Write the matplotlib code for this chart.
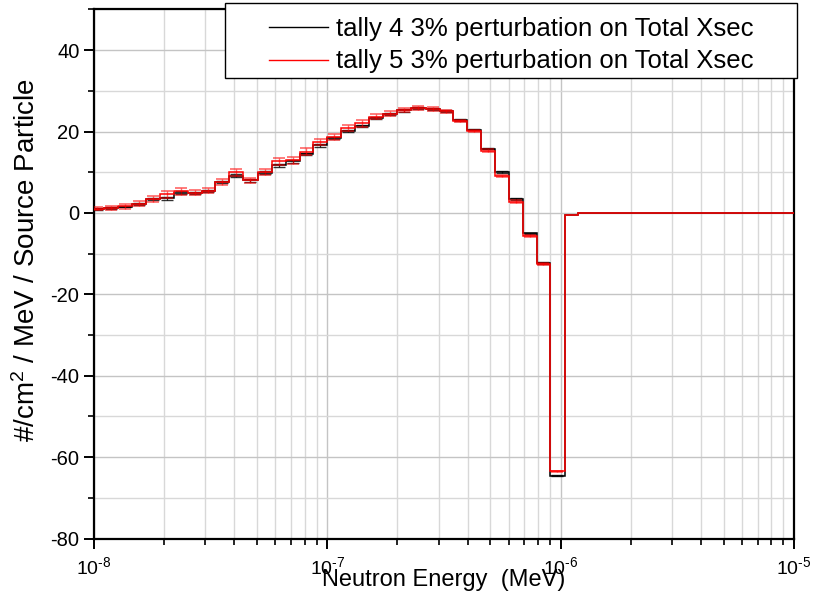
import matplotlib
matplotlib.use("Agg")
import matplotlib.pyplot as plt
import matplotlib.ticker as mticker
from matplotlib.patches import Rectangle
import numpy as np

plt.rcParams["font.family"] = ["Liberation Sans", "DejaVu Sans"]
plt.rcParams["mathtext.fontset"] = "custom"
plt.rcParams["mathtext.rm"] = "Liberation Sans"
plt.rcParams["mathtext.it"] = "Liberation Sans:italic"
plt.rcParams["axes.unicode_minus"] = False

# energy bin edges (MeV)
edges = [9.6e-9, 1.10e-8, 1.27e-8, 1.45e-8, 1.67e-8, 1.92e-8, 2.21e-8, 2.54e-8,
         2.90e-8, 3.30e-8, 3.80e-8, 4.36e-8, 5.03e-8, 5.77e-8, 6.63e-8, 7.63e-8,
         8.69e-8, 1.00e-7, 1.15e-7, 1.32e-7, 1.51e-7, 1.73e-7, 1.99e-7, 2.28e-7,
         2.64e-7, 3.03e-7, 3.45e-7, 3.97e-7, 4.57e-7, 5.25e-7, 6.00e-7, 6.91e-7,
         7.90e-7, 9.04e-7, 1.04e-6, 1.19e-6, 1.0e-5]

# tally 4 / tally 5 perturbation per bin
tally4 = [1.0, 1.2, 1.55, 2.2, 3.4, 3.6, 5.0, 4.9, 5.4, 7.6, 9.2, 8.0, 9.9, 11.7,
          12.7, 14.5, 16.6, 18.4, 20.1, 21.4, 23.4, 24.3, 25.2, 25.8, 25.5, 25.0,
          22.9, 20.5, 15.8, 10.0, 3.4, -5.0, -12.3, -64.5, -0.5, 0.0]
tally5 = [1.1, 1.3, 1.6, 2.3, 3.5, 4.6, 5.3, 5.0, 5.5, 7.6, 10.0, 8.0, 10.0, 12.7,
          12.9, 15.1, 17.4, 18.7, 20.8, 22.0, 23.6, 24.4, 25.3, 25.9, 25.6, 25.0,
          22.6, 20.1, 15.3, 9.1, 2.8, -5.6, -12.6, -63.5, -0.5, 0.0]

# statistical errors per bin
err4 = [0.2, 0.2, 0.2, 0.3, 0.3, 0.3, 0.3, 0.3, 0.3, 0.3, 0.3, 0.3, 0.3, 0.3,
         0.3, 0.3, 0.3, 0.3, 0.3, 0.3, 0.3, 0.3, 0.3, 0.3, 0.3, 0.3,
         0.2, 0.2, 0.2, 0.2, 0.2, 0.2, 0.2, 0.2, 0.0, 0.0]
err5 = [0.4, 0.5, 0.5, 0.6, 0.7, 0.9, 0.8, 0.7, 0.7, 0.7, 0.9, 0.7, 0.7, 0.9,
         0.8, 0.8, 0.8, 0.7, 0.7, 0.8, 0.6, 0.6, 0.6, 0.5, 0.5, 0.4,
         0.3, 0.3, 0.3, 0.3, 0.3, 0.3, 0.3, 0.2, 0.0, 0.0]

e = np.array(edges)
centers = np.sqrt(e[:-1] * e[1:])

W, H = 815, 592
fig = plt.figure(figsize=(W / 100, H / 100), dpi=100)
ax = fig.add_axes([0.1153, 0.0902, 0.8587, 0.8938])

ax.stairs(tally4, edges, color="black", lw=1.1, label="tally 4 3% perturbation on Total Xsec", zorder=3)
ax.errorbar(centers[:-2], tally4[:-2], yerr=err4[:-2], fmt="none", ecolor="black",
            elinewidth=0.9, capsize=4, capthick=1.0, alpha=0.8, zorder=3)
ax.stairs(tally5, edges, color="red", lw=1.1, label="tally 5 3% perturbation on Total Xsec", zorder=4)
ax.errorbar(centers[:-2], tally5[:-2], yerr=err5[:-2], fmt="none", ecolor="red",
            elinewidth=1.0, capsize=4.5, capthick=1.2, alpha=0.6, zorder=4)

ax.set_xscale("log")
ax.set_xlim(1e-8, 1e-5)
ax.set_ylim(-80, 50)
ax.yaxis.set_major_locator(mticker.MultipleLocator(20))
ax.yaxis.set_minor_locator(mticker.MultipleLocator(10))
ax.xaxis.set_major_locator(mticker.LogLocator(base=10, numticks=10))
ax.xaxis.set_minor_locator(mticker.LogLocator(base=10, subs=np.arange(2, 10), numticks=20))
ax.xaxis.set_minor_formatter(mticker.NullFormatter())
# decade labels with a plain hyphen in the exponent
ax.xaxis.set_major_formatter(mticker.FuncFormatter(
    lambda v, pos: r"$10^{\text{%d}}$" % int(round(np.log10(v)))))

ax.grid(which="major", color="#c4c4c4", lw=1.0, zorder=0)
ax.grid(which="minor", color="#d8d8d8", lw=1.0, zorder=0)
ax.set_axisbelow(True)

for s in ax.spines.values():
    s.set_linewidth(1.6)
ax.tick_params(which="major", direction="out", length=7, width=1.4, labelsize=14.5)
ax.tick_params(which="minor", direction="out", length=4, width=1.2)
ax.tick_params(axis="x", which="major", pad=6, labelsize=14)

ax.set_xlabel("Neutron Energy  (MeV)", fontsize=17, labelpad=-7)
ax.set_ylabel("#/cm$^2$ / MeV / Source Particle", fontsize=20)
ax.yaxis.set_label_coords(-0.075, 0.527)

# legend box sits over the top edge of the axes
x0, y0, x1, y1 = 225, 3, 797, 78
box = Rectangle((x0 / W, 1 - y1 / H), (x1 - x0) / W, (y1 - y0) / H,
                transform=fig.transFigure, facecolor="white", edgecolor="black",
                lw=1.0, clip_on=False, zorder=6)
ax.add_patch(box)
leg = ax.legend(loc="center", bbox_to_anchor=((x0 + x1) / 2 / W, 1 - 45 / H),
                bbox_transform=fig.transFigure, fontsize=18.5, frameon=False,
                handlelength=2.3, labelspacing=0.35, handletextpad=0.3,
                borderpad=0, borderaxespad=0)
leg.set_zorder(7)
for h in leg.get_lines():
    h.set_linewidth(1.0)

fig.savefig("out.png", dpi=100)
